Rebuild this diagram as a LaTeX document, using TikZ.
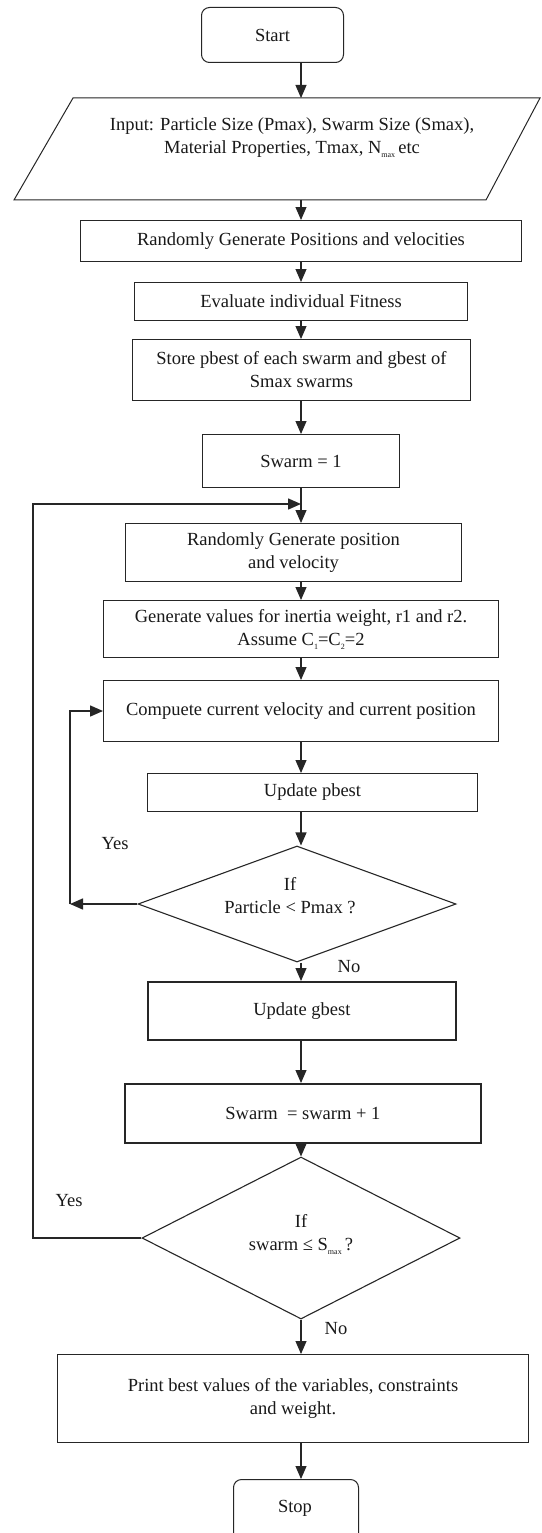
\documentclass[tikz,border=0pt]{standalone}
\usepackage{fontspec}
\setmainfont{Liberation Serif}
\usetikzlibrary{arrows.meta,shapes.geometric}
\newcommand{\fs}{\fontsize{18.5}{23}\selectfont}
\newcommand{\lowsub}[1]{\raisebox{-4pt}{\fontsize{8}{8}\selectfont #1}}
\begin{document}
\begin{tikzpicture}[x=1pt,y=-1pt,
  every node/.style={font=\fs, text=black!90},
  base/.style={draw=black!85, line width=1pt, align=center, inner sep=0pt, anchor=north west},
  heavy/.style={base, line width=1.8pt},
  term/.style={base, rounded corners=8pt},
  dec/.style={draw=black!85, line width=1.1pt, diamond, inner sep=0pt},
  lbl/.style={inner sep=0pt},
  arr/.style={draw=black!85, line width=1.1pt, -{Triangle[length=13pt,width=11pt]}},
  looparr/.style={arr, line width=1.5pt}]
\useasboundingbox (0,0) rectangle (541,1533);
\clip (0,0) rectangle (541,1533);
\fill[white] (0,0) rectangle (541,1533);

% main axis
\coordinate (ax) at (301,0);

% Start
\node[term, minimum width=142pt, minimum height=55pt] (start) at (201,7) {Start};

% Input parallelogram
\coordinate (pTL) at (73,98);
\coordinate (pTR) at (540,98);
\coordinate (pBR) at (486,200);
\coordinate (pBL) at (14,200);
\draw[draw=black!85, line width=1pt] (pTL) -- (pTR) -- (pBR) -- (pBL) -- cycle;
\node[lbl, align=center] (inp) at (292,138) {Input: Particle Size (Pmax), Swarm Size (Smax),\\Material Properties, Tmax, N\lowsub{max}\,etc};
\coordinate (ptop) at (301,98);
\coordinate (pbot) at (301,200);

\node[base, minimum width=441pt, minimum height=41pt] (b1) at (80,220) {Randomly Generate Positions and velocities};
\node[base, minimum width=333pt, minimum height=38pt] (eval) at (134,282) {Evaluate individual Fitness};
\node[base, minimum width=338pt, minimum height=61pt] (store) at (132,339) {Store pbest of each swarm and gbest of\\Smax swarms};
\node[base, minimum width=197pt, minimum height=53pt] (sw1) at (202,434) {Swarm = 1};
\node[base, minimum width=336pt, minimum height=58pt] (rgp) at (125,523) {Randomly Generate position\\and velocity};
\node[base, minimum width=395pt, minimum height=57pt] (gen) at (103,600) {Generate values for inertia weight, r1 and r2.\\Assume C\lowsub{1}=C\lowsub{2}=2};
\node[base, minimum width=395pt, minimum height=61pt] (comp) at (103,680) {Compuete current velocity and current position};
\node[base, minimum width=330pt, minimum height=38pt] (pb) at (147,773) {Update pbest};
\node[dec, minimum width=318pt, minimum height=116pt] (d1) at (297,904) {};
\node[lbl, align=center] (d1t) at (290,896) {If\\Particle < Pmax ?};
\node[heavy, minimum width=308pt, minimum height=58pt] (gb) at (147,981) {Update gbest};
\node[heavy, minimum width=356pt, minimum height=59pt] (sw2) at (124,1083) {Swarm \ = swarm + 1};
\node[dec, minimum width=318pt, minimum height=162pt] (d2) at (301,1238) {};
\node[lbl, align=center] (d2t) at (301,1235) {If\\swarm ≤ S\lowsub{max}\,?};
\node[base, minimum width=471pt, minimum height=88pt] (pr) at (57,1354) {Print best values of the variables, constraints\\and weight.};
\node[term, minimum width=125pt, minimum height=70pt] (stop) at (233,1479) {};
\node[lbl] (stopt) at (295,1508) {Stop};

% labels
\node[lbl] (yes1) at (115,844) {Yes};
\node[lbl] (no1) at (349,967) {No};
\node[lbl] (yes2) at (69,1201) {Yes};
\node[lbl] (no2) at (336,1329) {No};

% main arrows
\draw[arr] (start.south -| ax) -- (ptop);
\draw[arr] (pbot) -- (b1.north -| ax);
\draw[arr] (b1.south -| ax) -- (eval.north -| ax);
\draw[arr] (eval.south -| ax) -- (store.north -| ax);
\draw[arr] (store.south -| ax) -- (sw1.north -| ax);
\draw[arr] (sw1.south -| ax) -- (rgp.north -| ax);
\draw[arr] (rgp.south -| ax) -- (gen.north -| ax);
\draw[arr] (gen.south -| ax) -- (comp.north -| ax);
\draw[arr] (comp.south -| ax) -- (pb.north -| ax);
\draw[arr] (pb.south -| ax) -- (d1.north -| ax);
\draw[arr] (d1.south -| ax) -- (gb.north -| ax);
\draw[arr] (gb.south -| ax) -- (sw2.north -| ax);
\draw[arr] (sw2.south -| ax) -- (d2.north);
\draw[arr] (d2.south) -- (pr.north -| d2.south);
\draw[arr] (pr.south -| d2.south) -- (stop.north -| d2.south);

% inner loop (Particle < Pmax)
\coordinate (i1) at (70,904);
\draw[looparr] (d1.west) -- (i1);
\draw[looparr] (i1) |- (comp.west);

% outer loop (swarm <= Smax)
\coordinate (o1) at (33,1238);
\coordinate (o2) at (33,504);
\coordinate (j1) at (301,504);
\draw[looparr] (d2.west) -- (o1) -- (o2) -- (j1);
\end{tikzpicture}
\end{document}
